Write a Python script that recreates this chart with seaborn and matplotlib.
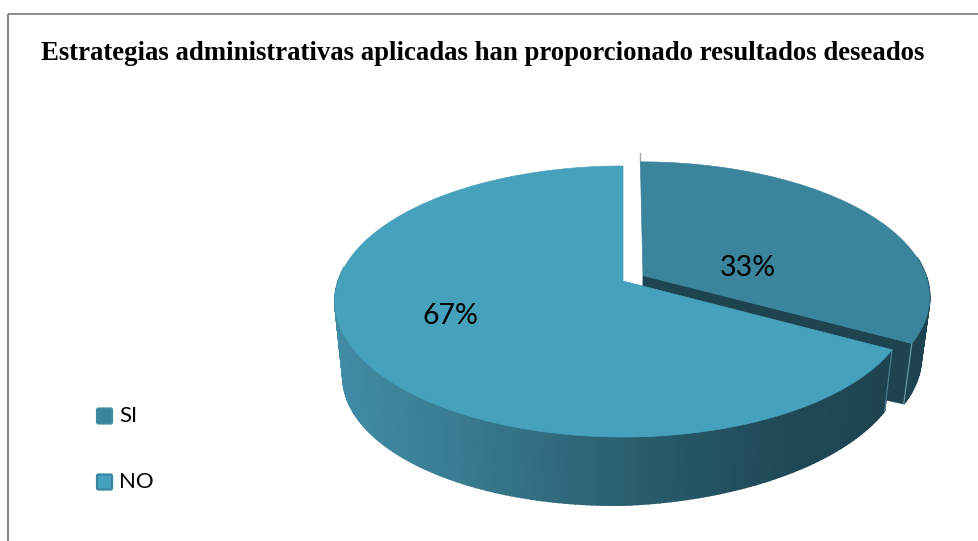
import numpy as np
import matplotlib
matplotlib.use("Agg")
import matplotlib.pyplot as plt
import seaborn as sns
from matplotlib.patches import Polygon, FancyBboxPatch
from matplotlib.transforms import Transform

# Survey answers
categories = ["SI", "NO"]
shares = [33, 67]
pct_labels = ["33%", "67%"]
title_text = "Estrategias administrativas aplicadas han proporcionado resultados deseados"

WIDTH, HEIGHT = 979, 541
TOP_COLORS = ["#3a849c", "#46a1bc"]
LEGEND_EDGES = ["#3f8ba3", "#37869f"]

sns.set_theme(style="white")


class Tilt(Transform):
    """Projects the unit-circle pie plane onto the page (pixels, y downward)."""
    input_dims = output_dims = 2
    CX, CY, BX, AY, P = 623.0, 281.0, 284.7, 132.4, 0.1514

    def transform_non_affine(self, xy):
        xy = np.asarray(xy, dtype=float)
        w = 1 + self.P * xy[:, 1]
        return np.column_stack([self.CX + self.BX * xy[:, 0] / w,
                                self.CY - self.AY * xy[:, 1] / w])


tilt = Tilt()


def lower_rim(pts):
    """Moves top-face page points down to the bottom face of the slab."""
    dx = pts[:, 0] - Tilt.CX
    dy = pts[:, 1] - Tilt.CY
    lean = np.where(dx > 0, 0.035 * dx, 0.012 * dx)
    return np.column_stack([Tilt.CX + 0.972 * dx,
                            Tilt.CY + 0.972 * dy + 72.4 - lean])


def side_shade(x):
    """Side walls darken from left to right."""
    stops = [335, 450, 560, 680, 800, 930]
    cols = np.array([matplotlib.colors.to_rgb(c) for c in
                     ["#408ca5", "#3a7d92", "#306a7c", "#265766", "#1f4856", "#1d4250"]])
    return [float(np.interp(x, stops, cols[:, i])) for i in range(3)]


fig = plt.figure(figsize=(WIDTH / 100, HEIGHT / 100), dpi=100, facecolor="white")
ax = fig.add_axes([0, 0, 1, 1])
ax.set_xlim(0, WIDTH)
ax.set_ylim(HEIGHT, 0)
ax.axis("off")

# The pie supplies the slice angles and offsets; the tilt places them on the page
pie_ax = fig.add_axes([0, 0, 1, 1], frameon=False)
pie_ax.set_axis_off()
wedges, _ = pie_ax.pie(shares, startangle=90, counterclock=False,
                       explode=[0.082, 0], colors=TOP_COLORS, radius=1)
for w in wedges:
    w.remove()


def rim_points(wedge, t0, t1, n):
    ts = np.radians(np.linspace(t0, t1, n))
    c = np.array(wedge.center)
    return tilt.transform(c + np.column_stack([np.cos(ts), np.sin(ts)]))


def wall(wedge, t0, t1, z):
    top = rim_points(wedge, t0, t1, int(abs(t1 - t0)) + 2)
    bot = lower_rim(top)
    for i in range(len(top) - 1):
        quad = [top[i], top[i + 1], bot[i + 1], bot[i]]
        col = side_shade((top[i, 0] + top[i + 1, 0]) / 2)
        ax.add_patch(Polygon(quad, closed=True, fc=col, ec=col, lw=1.3, zorder=z))


def seam(wedge, theta, z, color):
    end = rim_points(wedge, theta, theta, 1)
    low = lower_rim(end)
    ax.plot([end[0, 0], low[0, 0]], [end[0, 1], low[0, 1]], color=color, lw=0.8, zorder=z)


def radial_face(wedge, theta, z, color):
    c = np.array(wedge.center)
    apex = tilt.transform(c[None, :])
    end = rim_points(wedge, theta, theta, 1)
    pts = np.vstack([apex, end])
    low = lower_rim(pts)
    ax.add_patch(Polygon([pts[0], pts[1], low[1], low[0]], closed=True,
                         fc=color, ec=color, lw=0.5, zorder=z))


si, no = wedges

# Rear slice first, then the front slice covers what lies behind it
wall(si, si.theta1, 8, 1)
radial_face(si, si.theta1, 2, "#1e4452")
seam(si, si.theta1, 2.2, "#6f9fb0")
wall(no, -186, no.theta2, 3)
seam(no, no.theta2, 3.5, "#4f8193")

for w, color, z in [(si, TOP_COLORS[0], 2.5), (no, TOP_COLORS[1], 4)]:
    ring = rim_points(w, w.theta1, w.theta2, 300)
    apex = tilt.transform(np.array(w.center)[None, :])
    ax.add_patch(Polygon(np.vstack([apex, ring]), closed=True, fc=color,
                         ec=color, lw=0.5, zorder=z))

# Short grey tick rising from the rear edge of the pulled-out slice
rear = rim_points(si, si.theta2, si.theta2, 1)
ax.plot([rear[0, 0], rear[0, 0]], [rear[0, 1], rear[0, 1] - 9],
        color="#a8a8a8", lw=1.0, zorder=2)

# Percent labels
ax.text(748, 268, pct_labels[0], ha="center", va="center", fontsize=20.5,
        family="Lato", color="black", zorder=6)
ax.text(450, 316, pct_labels[1], ha="center", va="center", fontsize=20.5,
        family="Lato", color="black", zorder=6)

# Title
ax.text(41, 53, title_text, ha="left", va="center", fontsize=19.25, weight="bold",
        family="Liberation Serif", color="black", zorder=6)

# Legend
for name, face, edge, y in zip(categories, TOP_COLORS, LEGEND_EDGES, [416, 482]):
    ax.add_patch(FancyBboxPatch((97, y - 7.5), 15, 15, boxstyle="round,pad=0,rounding_size=1.5",
                                fc=face, ec=edge, lw=1.6, zorder=6))
    ax.text(119, y, name, ha="left", va="center", fontsize=16,
            family="Lato", color="black", zorder=6)

# Frame: only its left and top sides fall inside the canvas
frame = "#8a8a8a"
ax.plot([8, 8], [HEIGHT, 14], color=frame, lw=1.6, zorder=5, solid_capstyle="butt")
ax.plot([8, WIDTH], [14, 14], color=frame, lw=1.4, zorder=5, solid_capstyle="butt")

fig.savefig("out.png", dpi=100)
